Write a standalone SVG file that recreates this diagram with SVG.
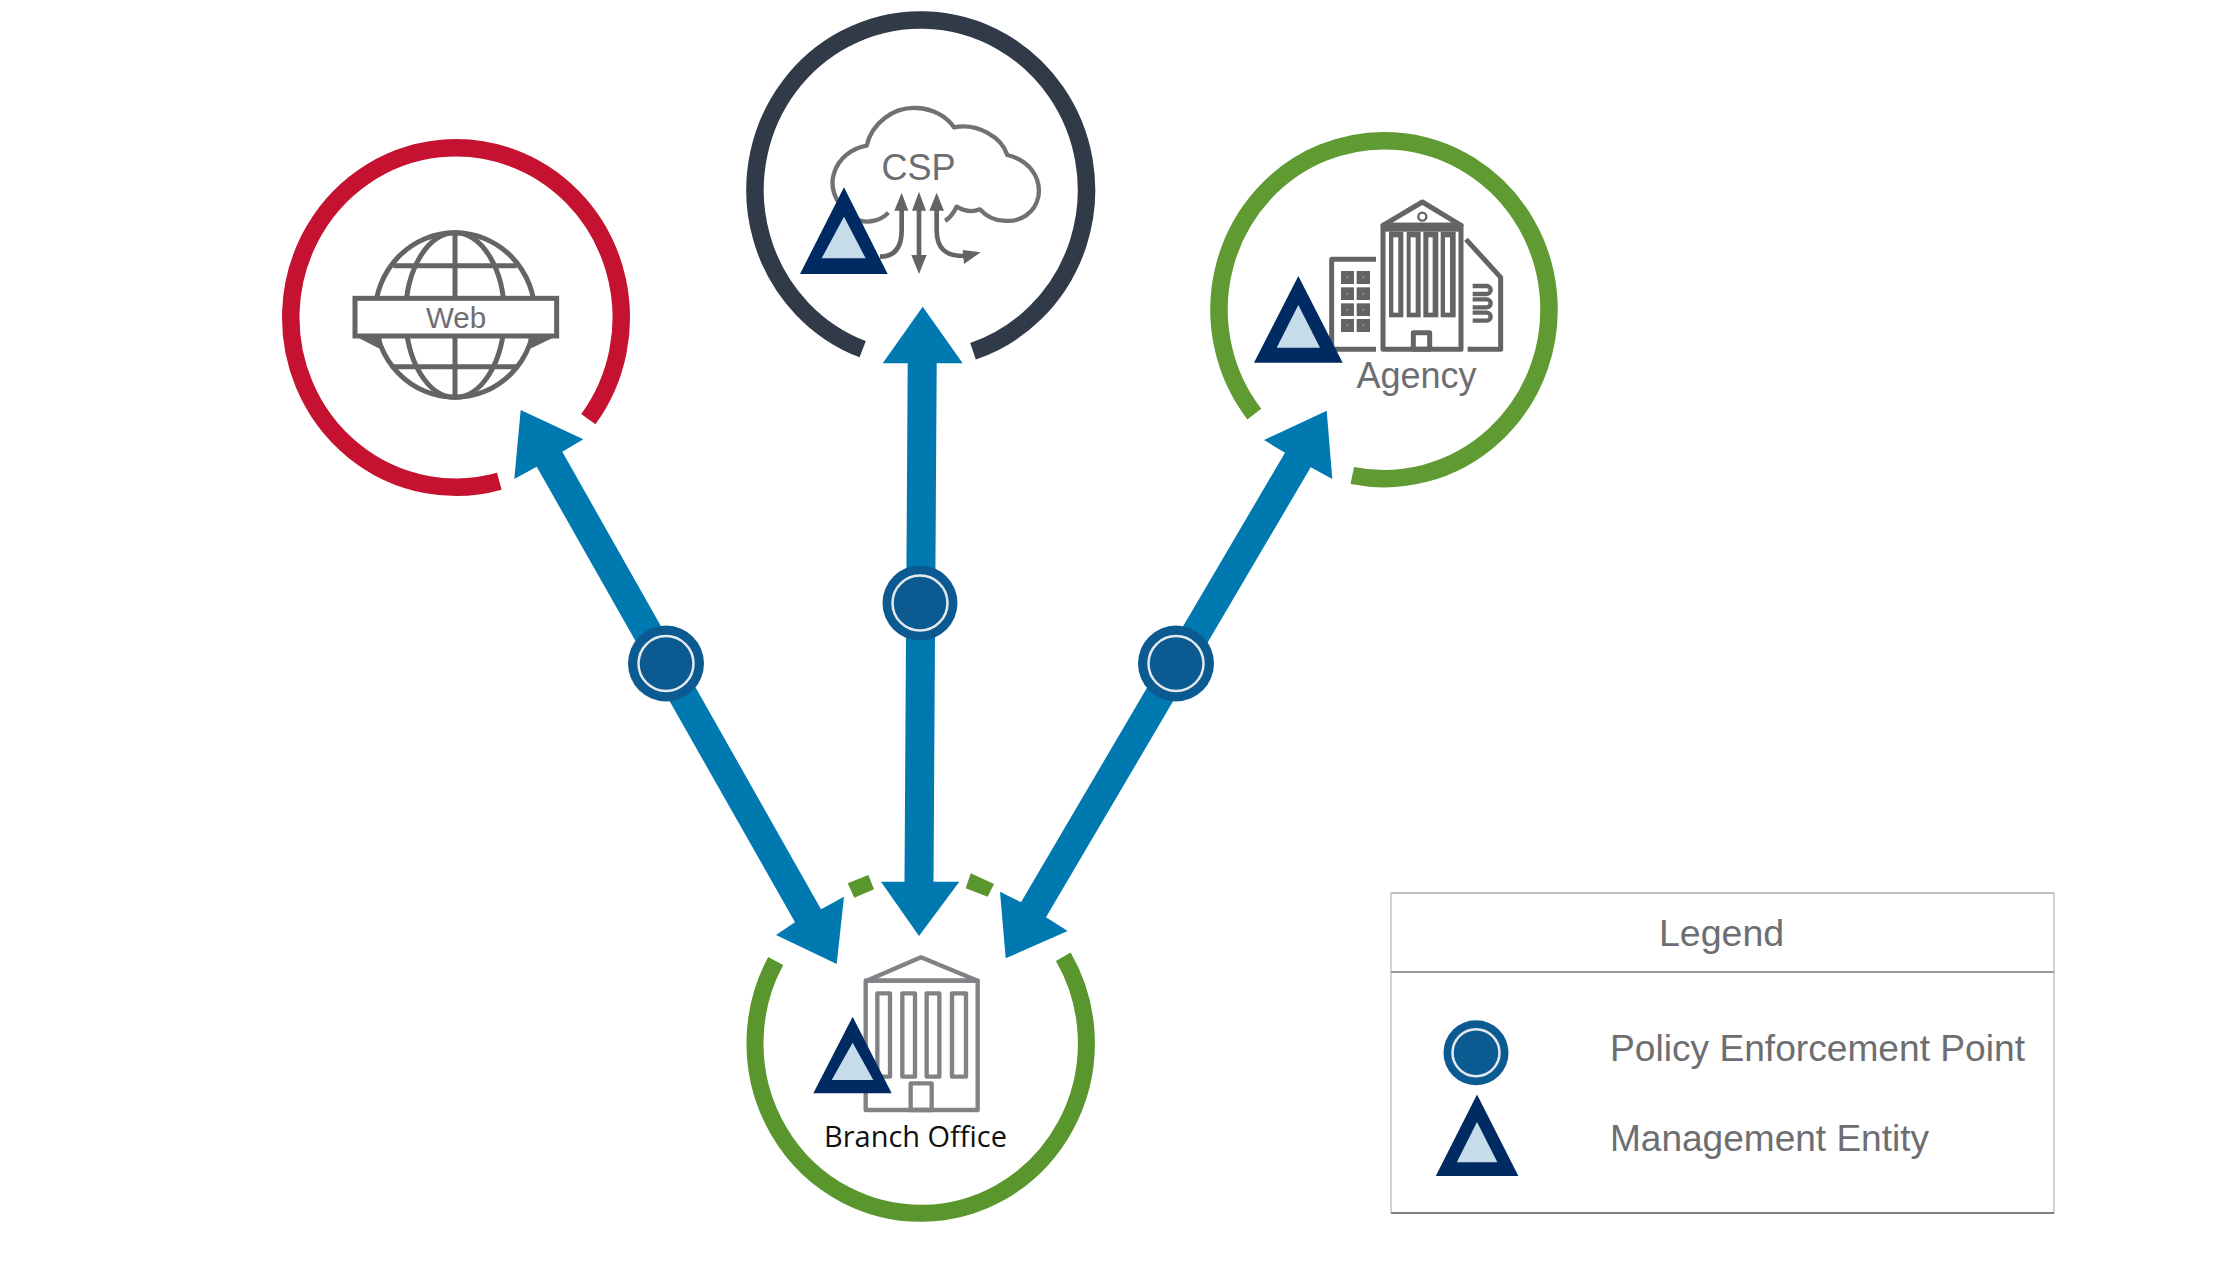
<svg xmlns="http://www.w3.org/2000/svg" width="2225" height="1279" viewBox="0 0 2225 1279">
<defs>
<style>
.ring{fill:none;stroke-width:17.5}
.tri-o{fill:#002b62}
.tri-i{fill:#c6dcea}
.ico{fill:none;stroke:#636466;stroke-width:15;stroke-linejoin:round}
.icof{fill:#636466;stroke:none}
.dot{fill:#9a9b9d}
.lbl{font-family:"Liberation Sans",Arial,sans-serif;fill:#6d6e71}
.arrow{fill:#0079b1}
.pep{fill:#0b5a92}
.pep-r{fill:none;stroke:#e4e9ee;stroke-width:2.5}
.bldg{fill:none;stroke:#808285;stroke-width:13;stroke-linejoin:round}
</style>
<filter id="soft" x="-5%" y="-5%" width="110%" height="110%"><feGaussianBlur stdDeviation="1"/></filter>
</defs>
<rect width="2225" height="1279" fill="#ffffff"/>

<g id="connectors">
<polygon class="arrow" points="520.7,410 583.3,439.3 562.3,451.7 821,909.3 844,896.7 836.7,964 776,935 795,922.3 536.7,466.7 514.3,479"/>
<polygon class="arrow" points="922.7,306.7 962.7,363.3 936.7,363.3 933.5,881.7 959.3,881.7 919,936 881,881.7 904.5,881.7 907.7,363.3 882.7,363.3"/>
<polygon class="arrow" points="1326.7,410.7 1332.3,479 1310.7,467.3 1046,917.3 1067.7,931 1005.7,958.3 1000,891.7 1021,902.3 1285,452.7 1264,440"/>
</g>

<g id="node-web">
<path class="ring" stroke="#c41230" d="M588.3,419.2 A165.25,169.75 0 1 0 499.3,481.3"/>
<g transform="translate(250 100) scale(.33333)">
<ellipse class="ico" cx="615" cy="645" rx="240" ry="247"/>
<ellipse class="ico" cx="615" cy="645" rx="148" ry="247"/>
<line class="ico" x1="615" y1="398" x2="615" y2="892"/>
<line class="ico" x1="430" y1="497" x2="800" y2="497"/>
<line class="ico" x1="430" y1="800" x2="800" y2="800"/>
<polygon class="icof" points="315,708 395,708 392,746 380,742"/>
<polygon class="icof" points="920,708 835,708 838,746 850,742"/>
<rect x="315" y="595" width="605" height="113" fill="#ffffff" stroke="#636466" stroke-width="15"/>
</g>
<text class="lbl" x="456" y="328" font-size="29.5" text-anchor="middle">Web</text>
</g>

<g id="node-csp">
<path class="ring" stroke="#303a48" d="M862.7,349.2 A165.75,170 0 1 1 973,351.3"/>
<g transform="translate(720 0) scale(.33333)">
<path fill="none" stroke="#707174" stroke-width="13" stroke-linejoin="round" d="M505,638 C485,660 450,670 420,662 C360,640 325,570 342,520 C355,475 395,445 440,437 C455,370 520,320 590,324 C640,326 680,350 702,382 C770,368 845,410 862,465 C925,480 965,530 955,590 C945,640 900,668 850,662 C820,660 795,645 780,628 C755,638 730,632 710,620 C700,640 690,655 675,662"/>
<path fill="none" stroke="#636466" stroke-width="14" d="M480,770 C525,770 545,740 545,690 L545,615"/>
<path fill="none" stroke="#636466" stroke-width="14" d="M597,610 L597,790"/>
<path fill="none" stroke="#636466" stroke-width="14" d="M650,615 L650,690 C650,745 675,770 740,768"/>
<polygon class="icof" points="545,578 565,632 523,632"/>
<polygon class="icof" points="597,575 618,632 576,632"/>
<polygon class="icof" points="650,578 672,632 628,632"/>
<polygon class="icof" points="597,822 620,765 574,765"/>
<polygon class="icof" points="782,757 732,792 728,750"/>
<polygon class="tri-o" points="372,562 503,822 240,822"/>
<polygon class="tri-i" points="372,650 437,775 305,775"/>
</g>
<text class="lbl" x="918.5" y="180" font-size="36" text-anchor="middle">CSP</text>
</g>

<g id="node-agency">
<path class="ring" stroke="#5f9a32" d="M1352.3,475.5 A165,169 0 1 0 1254.3,414.1"/>
<g transform="translate(1290 180) scale(.33333)">
<path class="ico" d="M258,238 L125,238 L125,508 L258,508"/>
<g class="icof">
<rect x="153" y="273" width="39" height="39"/><rect x="200" y="273" width="40" height="39"/>
<rect x="153" y="322" width="39" height="38"/><rect x="200" y="322" width="40" height="38"/>
<rect x="153" y="370" width="39" height="38"/><rect x="200" y="370" width="40" height="38"/>
<rect x="153" y="417" width="39" height="39"/><rect x="200" y="417" width="40" height="39"/>
</g>
<g class="dot">
<circle cx="172" cy="292" r="3"/><circle cx="220" cy="292" r="3"/>
<circle cx="172" cy="341" r="3"/><circle cx="220" cy="341" r="3"/>
<circle cx="172" cy="389" r="3"/><circle cx="220" cy="389" r="3"/>
<circle cx="172" cy="436" r="3"/><circle cx="220" cy="436" r="3"/>
</g>
<path class="ico" d="M279,136 L397,66 L513,136 Z"/>
<rect class="ico" x="279" y="136" width="234" height="372"/>
<circle cx="397" cy="110" r="12" fill="none" stroke="#636466" stroke-width="7"/>
<rect class="icof" x="279" y="136" width="234" height="19"/>
<g class="icof">
<rect x="297" y="155" width="43" height="257"/>
<rect x="350" y="155" width="42" height="257"/>
<rect x="400" y="155" width="45" height="257"/>
<rect x="452" y="155" width="45" height="257"/>
</g>
<g fill="#ffffff">
<rect x="310" y="172" width="15" height="226"/>
<rect x="362" y="172" width="15" height="226"/>
<rect x="415" y="172" width="13" height="226"/>
<rect x="465" y="172" width="15" height="226"/>
</g>
<rect class="ico" x="370" y="458" width="49" height="50"/>
<path class="ico" d="M528,178 L632,292 L632,508 L533,508"/>
<path fill="none" stroke="#636466" stroke-width="13" d="M548,318 H590 A12,12 0 0 1 590,342 H548 M548,358 H590 A12,12 0 0 1 590,382 H548 M548,398 H590 A12,12 0 0 1 590,422 H548"/>
</g>
<g transform="translate(1190 120) scale(.33333)">
<polygon class="tri-o" points="325,468 458,728 192,728"/>
<polygon class="tri-i" points="325,555 390,683 260,683"/>
</g>
<text class="lbl" x="1356.5" y="388" font-size="36">Agency</text>
</g>

<g id="node-branch">
<path fill="none" stroke="#5a962e" stroke-width="17" d="M775.7,961 A165.7,170 0 1 0 1063.3,956.7"/>
<polygon fill="#5a962e" points="847.7,883.3 868.3,875 874,889.3 854.3,897.7"/>
<polygon fill="#5a962e" points="970.7,873.3 994,884 987.7,896.7 965.7,888.3"/>
<g transform="translate(720 860) scale(.33333)">
<g filter="url(#soft)">
<path class="bldg" d="M440,362 L603,292 L773,362 Z"/>
<rect class="bldg" x="437" y="362" width="336" height="388"/>
<rect class="bldg" x="472" y="400" width="38" height="250"/>
<rect class="bldg" x="547" y="400" width="38" height="250"/>
<rect class="bldg" x="620" y="400" width="38" height="250"/>
<rect class="bldg" x="696" y="400" width="42" height="250"/>
<rect class="bldg" x="572" y="670" width="63" height="80"/>
</g>
<g filter="url(#soft)">
<polygon class="tri-o" points="398,470 515,700 280,700"/>
<polygon class="tri-i" points="398,548 460,660 335,660"/>
</g>
</g>
<text x="824" y="1147" font-family="'Open Sans','Noto Sans',sans-serif" font-size="30" fill="#111111" textLength="183" lengthAdjust="spacingAndGlyphs">Branch Office</text>
</g>

<g id="pep-web"><circle class="pep" cx="666" cy="663.5" r="38"/><circle class="pep-r" cx="666" cy="663.5" r="27.5"/></g>
<g id="pep-csp"><circle class="pep" cx="920" cy="603" r="37.5"/><circle class="pep-r" cx="920" cy="603" r="27.5"/></g>
<g id="pep-agency"><circle class="pep" cx="1176" cy="663.5" r="38"/><circle class="pep-r" cx="1176" cy="663.5" r="27.5"/></g>

<g id="legend">
<line x1="1391" y1="893" x2="2054" y2="893" stroke="#bdbdbd" stroke-width="2"/>
<line x1="1391" y1="893" x2="1391" y2="1213" stroke="#c4c4c4" stroke-width="1.5"/>
<line x1="2054" y1="893" x2="2054" y2="1213" stroke="#c4c4c4" stroke-width="1.5"/>
<line x1="1391" y1="972" x2="2054" y2="972" stroke="#9a9a9a" stroke-width="2"/>
<line x1="1391" y1="1213" x2="2054" y2="1213" stroke="#808080" stroke-width="2"/>
<text class="lbl" x="1659" y="946" font-size="37.5">Legend</text>
<circle class="pep" cx="1476" cy="1052.7" r="32.5"/>
<circle class="pep-r" cx="1476" cy="1052.7" r="23.5"/>
<text class="lbl" x="1610" y="1061" font-size="37" textLength="415" lengthAdjust="spacingAndGlyphs">Policy Enforcement Point</text>
<polygon class="tri-o" points="1477,1094.5 1518.4,1176 1435.8,1176"/>
<polygon class="tri-i" points="1477,1122 1497.4,1162.3 1456.8,1162.3"/>
<text class="lbl" x="1610" y="1151" font-size="37" textLength="319" lengthAdjust="spacingAndGlyphs">Management Entity</text>
</g>
</svg>
